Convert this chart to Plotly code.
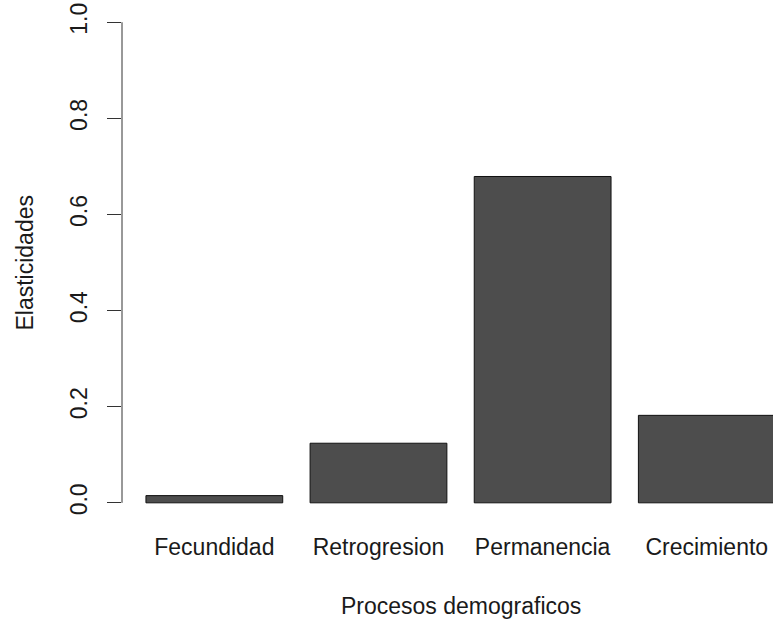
import plotly.graph_objects as go

# Elasticidades por proceso demografico
procesos = ["Fecundidad", "Retrogresion", "Permanencia", "Crecimiento"]
elasticidades = [0.015, 0.124, 0.679, 0.182]
y_ticks = [0.0, 0.2, 0.4, 0.6, 0.8, 1.0]
y_tick_labels = ["0.0", "0.2", "0.4", "0.6", "0.8", "1.0"]

# barplot-style layout: bar width 1, spacing 0.2
bar_width = 1.0
space = 0.2
centers = [space + bar_width / 2 + i * (bar_width + space) for i in range(len(procesos))]
x_mid = (space + centers[-1] + bar_width / 2) / 2

FONT = "Liberation Sans, Arial, Helvetica, sans-serif"
FS = 23

fig = go.Figure(
    go.Bar(
        x=centers,
        y=elasticidades,
        width=bar_width,
        marker=dict(color="#4D4D4D", line=dict(color="#111111", width=1)),
        hoverinfo="skip",
    )
)

fig.update_layout(
    width=773,
    height=621,
    margin=dict(l=122, r=0, t=3, b=98),
    paper_bgcolor="white",
    plot_bgcolor="white",
    showlegend=False,
    font=dict(family=FONT, size=FS, color="#1a1a1a"),
    xaxis=dict(
        range=[0.025, 4.784],
        tickvals=centers,
        ticktext=procesos,
        ticks="",
        showline=False,
        showgrid=False,
        zeroline=False,
        ticklabelstandoff=8,
        tickfont=dict(family=FONT, size=FS, color="#1a1a1a"),
    ),
    yaxis=dict(
        range=[-0.042, 1.04],
        tickvals=y_ticks,
        ticktext=y_tick_labels,
        tickangle=-90,
        ticks="outside",
        ticklen=14,
        tickwidth=1,
        tickcolor="#333333",
        showline=False,
        showgrid=False,
        zeroline=False,
        ticklabelstandoff=11,
        tickfont=dict(family=FONT, size=FS, color="#1a1a1a"),
    ),
    shapes=[
        dict(
            type="line",
            xref="paper",
            yref="y",
            x0=0,
            x1=0,
            y0=min(y_ticks),
            y1=max(y_ticks),
            line=dict(color="#333333", width=1),
        )
    ],
    annotations=[
        dict(
            text="Procesos demograficos",
            xref="x",
            yref="paper",
            x=x_mid,
            y=-0.159,
            xanchor="center",
            yanchor="middle",
            showarrow=False,
            font=dict(family=FONT, size=FS, color="#1a1a1a"),
        ),
        dict(
            text="Elasticidades",
            xref="paper",
            yref="y",
            x=-0.1505,
            y=0.5,
            textangle=-90,
            xanchor="center",
            yanchor="middle",
            showarrow=False,
            font=dict(family=FONT, size=FS, color="#1a1a1a"),
        ),
    ],
)

fig.write_html("out.html")
